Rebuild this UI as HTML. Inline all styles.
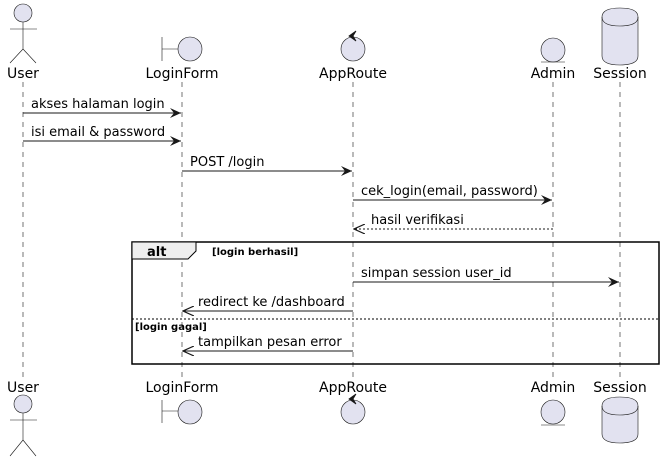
<!DOCTYPE html>
<html><head><meta charset="utf-8"><style>
html,body{margin:0;padding:0;background:#fff;}
svg{display:block;font-family:"DejaVu Sans","Liberation Sans",sans-serif;}
</style></head><body>
<svg width="666" height="460" viewBox="0 0 666 460" xmlns="http://www.w3.org/2000/svg">
<defs>
<marker id="a" markerWidth="12" markerHeight="10" refX="11" refY="5" orient="auto" markerUnits="userSpaceOnUse">
<path d="M0,0 L11,5 L0,10 L4,5 Z" fill="#181818"/></marker>
<marker id="o" markerWidth="12" markerHeight="10" refX="11" refY="5" orient="auto" markerUnits="userSpaceOnUse">
<path d="M0,0 L11,5 L0,10" fill="none" stroke="#181818" stroke-width="1.2"/></marker>
</defs>
<g stroke="#181818" stroke-width="0.6" stroke-dasharray="5,5">
<line x1="23" y1="82" x2="23" y2="378"/>
<line x1="182" y1="82" x2="182" y2="378"/>
<line x1="353" y1="82" x2="353" y2="378"/>
<line x1="553" y1="82" x2="553" y2="378"/>
<line x1="620" y1="82" x2="620" y2="378"/>
</g>
<g font-size="14" fill="#000" text-anchor="middle">
<text x="23" y="78">User</text><text x="182" y="78">LoginForm</text><text x="353" y="78">AppRoute</text><text x="553" y="78">Admin</text><text x="620" y="78">Session</text>
<text x="23" y="392">User</text><text x="182" y="392">LoginForm</text><text x="353" y="392">AppRoute</text><text x="553" y="392">Admin</text><text x="620" y="392">Session</text>
</g>
<g fill="#E2E2F0" stroke="#181818" stroke-width="0.6">
<circle cx="23" cy="13" r="9"/>
<path d="M23,22 V49 M10,29 H37 M23,49 L10,63 M23,49 L36,63" fill="none"/>
<path d="M162,37 V61 M162,49 H178" fill="none"/>
<circle cx="190" cy="49" r="12"/>
<circle cx="353" cy="49" r="12"/>
<path d="M349,36 L356,31 L353,36 L356,41 Z" fill="#181818" stroke-width="0.8"/>
<circle cx="553" cy="50" r="12"/>
<line x1="541" y1="62" x2="565" y2="62"/>
<path d="M602,17 Q602,8 620,8 Q638,8 638,17 V56 Q638,65 620,65 Q602,65 602,56 Z"/>
<path d="M602,17 Q602,26 620,26 Q638,26 638,17" fill="none"/>
<circle cx="23" cy="404" r="9"/>
<path d="M23,413 V440 M10,420 H37 M23,440 L10,456 M23,440 L36,456" fill="none"/>
<path d="M162,400 V423 M162,411 H178" fill="none"/>
<circle cx="190" cy="412" r="12"/>
<circle cx="353" cy="412" r="12"/>
<path d="M349,399 L356,394 L353,399 L356,404 Z" fill="#181818" stroke-width="0.8"/>
<circle cx="553" cy="412" r="12"/>
<line x1="541" y1="425" x2="565" y2="425"/>
<path d="M602,406 Q602,397 620,397 Q638,397 638,406 V434 Q638,443 620,443 Q602,443 602,434 Z"/>
<path d="M602,406 Q602,415 620,415 Q638,415 638,406" fill="none"/>
</g>
<g stroke="#181818" stroke-width="1" fill="none">
<line x1="23" y1="113" x2="181" y2="113" marker-end="url(#a)"/>
<line x1="23" y1="141" x2="181" y2="141" marker-end="url(#a)"/>
<line x1="182" y1="171" x2="352" y2="171" marker-end="url(#a)"/>
<line x1="353" y1="200" x2="552" y2="200" marker-end="url(#a)"/>
<line x1="553" y1="229" x2="354" y2="229" stroke-dasharray="2,2" marker-end="url(#o)"/>
<line x1="353" y1="282" x2="619" y2="282" marker-end="url(#a)"/>
<line x1="353" y1="311" x2="183" y2="311" marker-end="url(#o)"/>
<line x1="353" y1="351" x2="183" y2="351" marker-end="url(#o)"/>
</g>
<g font-size="13" fill="#000">
<text x="31" y="108">akses halaman login</text>
<text x="31" y="136">isi email &amp; password</text>
<text x="190" y="166">POST /login</text>
<text x="361" y="195">cek_login(email, password)</text>
<text x="371" y="224">hasil verifikasi</text>
<text x="361" y="277">simpan session user_id</text>
<text x="198" y="306">redirect ke /dashboard</text>
<text x="198" y="346">tampilkan pesan error</text>
</g>
<rect x="132" y="242" width="527" height="122" fill="none" stroke="#000" stroke-width="1.5"/>
<path d="M132,242 H196 V251 L188,259 H132 Z" fill="#EEEEEE" stroke="#000" stroke-width="1"/>
<line x1="132" y1="319" x2="659" y2="319" stroke="#000" stroke-width="1" stroke-dasharray="2,2"/>
<g font-weight="bold" fill="#000">
<text x="147" y="256" font-size="13">alt</text>
<text x="212" y="255" font-size="10">[login berhasil]</text>
<text x="135" y="330" font-size="10">[login gagal]</text>
</g>
</svg>
</body></html>
